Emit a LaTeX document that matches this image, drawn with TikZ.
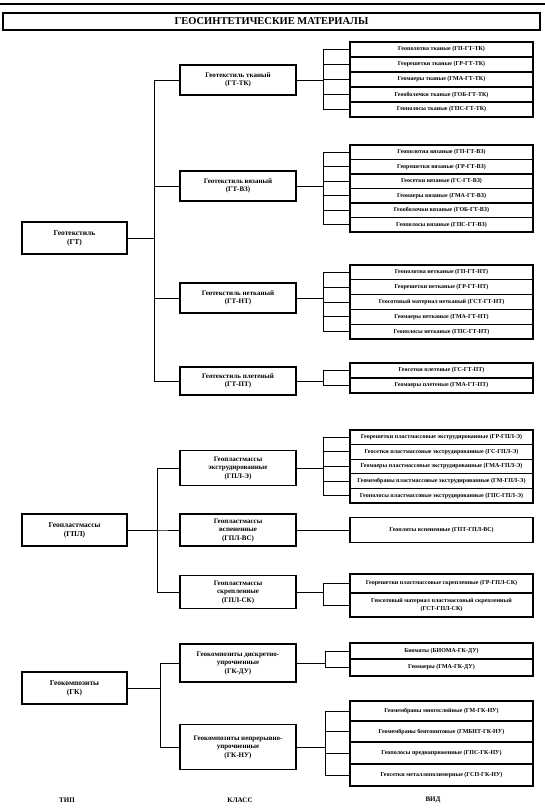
\documentclass[tikz,border=0pt]{standalone}
\usepackage{fontspec}
\setmainfont{Liberation Serif}
\begin{document}
\begin{tikzpicture}[x=1pt,y=-1pt,
  every node/.style={inner sep=1pt, align=center},
  box/.style={draw, line width=1.1pt},
  typebox/.style={box, minimum width=105pt, minimum height=32pt, font=\bfseries\fontsize{7.5}{9}\selectfont},
  classbox/.style={box, minimum width=116pt, font=\bfseries\fontsize{7}{8.5}\selectfont},
  kindbox/.style={box, minimum width=183pt, font=\bfseries\fontsize{6}{7.2}\selectfont},
  link/.style={line width=0.9pt},
  axislabel/.style={font=\bfseries\fontsize{7}{8}\selectfont}
]
\useasboundingbox (0,0) rectangle (545,810);
\coordinate (ruleL) at (0,4);
\coordinate (ruleR) at (545,4);
\draw[line width=1.2pt] (ruleL) -- (ruleR);

\node[box, minimum width=537pt, minimum height=17pt, font=\bfseries\fontsize{10.5}{12}\selectfont] (title) at (271.5,21.5) {ГЕОСИНТЕТИЧЕСКИЕ МАТЕРИАЛЫ};

% types
\node[typebox] (tgt) at (74.5,238) {Геотекстиль\\(ГТ)};
\node[typebox] (tgpl) at (74.5,530) {Геопластмассы\\(ГПЛ)};
\node[typebox] (tgk) at (74.5,688) {Геокомпозиты\\(ГК)};

% classes
\node[classbox, minimum height=30pt] (ctk) at (238,80) {Геотекстиль тканый\\(ГТ-ТК)};
\node[classbox, minimum height=30pt] (cvz) at (238,186) {Геотекстиль вязаный\\(ГТ-ВЗ)};
\node[classbox, minimum height=30pt] (cnt) at (238,298) {Геотекстиль нетканый\\(ГТ-НТ)};
\node[classbox, minimum height=28pt] (cpt) at (238,381) {Геотекстиль плетеный\\(ГТ-ПТ)};
\node[classbox, minimum height=35pt] (ce) at (238,468) {Геопластмассы\\экструдированные\\(ГПЛ-Э)};
\node[classbox, minimum height=32pt] (cvs) at (238,530) {Геопластмассы\\вспененные\\(ГПЛ-ВС)};
\node[classbox, minimum height=33pt] (csk) at (238,592) {Геопластмассы\\скрепленные\\(ГПЛ-СК)};
\node[classbox, minimum height=38pt] (cdu) at (238,663) {Геокомпозиты дискретно-\\упрочненные\\(ГК-ДУ)};
\node[classbox, minimum height=45pt] (cnu) at (238,747) {Геокомпозиты непрерывно-\\упрочненные\\(ГК-НУ)};

% kinds: ГТ-ТК
\node[kindbox, minimum height=15pt] (tk1) at (441.5,49.5) {Геополотна тканые (ГП-ГТ-ТК)};
\node[kindbox, minimum height=15pt] (tk2) at (441.5,64.5) {Георешетки тканые (ГР-ГТ-ТК)};
\node[kindbox, minimum height=15pt] (tk3) at (441.5,79.5) {Геомаеры тканые (ГМА-ГТ-ТК)};
\node[kindbox, minimum height=15pt] (tk4) at (441.5,94.5) {Геооболочки тканые (ГОБ-ГТ-ТК)};
\node[kindbox, minimum height=15pt] (tk5) at (441.5,109.5) {Геополосы тканые (ГПС-ГТ-ТК)};
% ГТ-ВЗ
\node[kindbox, minimum height=14.5pt] (vz1) at (441.5,152.25) {Геополотна вязаные (ГП-ГТ-ВЗ)};
\node[kindbox, minimum height=14.5pt] (vz2) at (441.5,166.75) {Георешетки вязаные (ГР-ГТ-ВЗ)};
\node[kindbox, minimum height=14.5pt] (vz3) at (441.5,181.25) {Геосетки вязаные (ГС-ГТ-ВЗ)};
\node[kindbox, minimum height=14.5pt] (vz4) at (441.5,195.75) {Геомаеры вязаные (ГМА-ГТ-ВЗ)};
\node[kindbox, minimum height=14.5pt] (vz5) at (441.5,210.25) {Геооболочки вязаные (ГОБ-ГТ-ВЗ)};
\node[kindbox, minimum height=14.5pt] (vz6) at (441.5,224.75) {Геополосы вязаные (ГПС-ГТ-ВЗ)};
% ГТ-НТ
\node[kindbox, minimum height=14.8pt] (nt1) at (441.5,272.4) {Геополотна нетканые (ГП-ГТ-НТ)};
\node[kindbox, minimum height=14.8pt] (nt2) at (441.5,287.2) {Георешетки нетканые (ГР-ГТ-НТ)};
\node[kindbox, minimum height=14.8pt] (nt3) at (441.5,302) {Геосотовый материал нетканый (ГСТ-ГТ-НТ)};
\node[kindbox, minimum height=14.8pt] (nt4) at (441.5,316.8) {Геомаеры нетканые (ГМА-ГТ-НТ)};
\node[kindbox, minimum height=14.8pt] (nt5) at (441.5,331.6) {Геополосы нетканые (ГПС-ГТ-НТ)};
% ГТ-ПТ
\node[kindbox, minimum height=15pt] (pt1) at (441.5,370.5) {Геосетки плетеные (ГС-ГТ-ПТ)};
\node[kindbox, minimum height=15pt] (pt2) at (441.5,385.5) {Геомаеры плетеные (ГМА-ГТ-ПТ)};
% ГПЛ-Э
\node[kindbox, minimum height=14.6pt] (e1) at (441.5,437.3) {Георешетки пластмассовые экструдированные (ГР-ГПЛ-Э)};
\node[kindbox, minimum height=14.6pt] (e2) at (441.5,451.9) {Геосетки пластмассовые экструдированные (ГС-ГПЛ-Э)};
\node[kindbox, minimum height=14.6pt] (e3) at (441.5,466.5) {Геомаеры пластмассовые экструдированные (ГМА-ГПЛ-Э)};
\node[kindbox, minimum height=14.6pt] (e4) at (441.5,481.1) {Геомембраны пластмассовые экструдированные (ГМ-ГПЛ-Э)};
\node[kindbox, minimum height=14.6pt] (e5) at (441.5,495.7) {Геополосы пластмассовые экструдированные (ГПС-ГПЛ-Э)};
% ГПЛ-ВС
\node[kindbox, minimum height=25pt] (vs1) at (441.5,530) {Геоплиты вспененные (ГПТ-ГПЛ-ВС)};
% ГПЛ-СК
\node[kindbox, minimum height=19pt] (sk1) at (441.5,583.5) {Георешетки пластмассовые скрепленные (ГР-ГПЛ-СК)};
\node[kindbox, minimum height=24pt] (sk2) at (441.5,605) {Геосотовый материал пластмассовый скрепленный\\(ГСТ-ГПЛ-СК)};
% ГК-ДУ
\node[kindbox, minimum height=16pt] (du1) at (441.5,651) {Биоматы (БИОМА-ГК-ДУ)};
\node[kindbox, minimum height=17pt] (du2) at (441.5,667.5) {Геомаеры (ГМА-ГК-ДУ)};
% ГК-НУ
\node[kindbox, minimum height=20pt] (nu1) at (441.5,711) {Геомембраны многослойные (ГМ-ГК-НУ)};
\node[kindbox, minimum height=21pt] (nu2) at (441.5,731.5) {Геомембраны бентонитовые (ГМБНТ-ГК-НУ)};
\node[kindbox, minimum height=22pt] (nu3) at (441.5,753) {Геополосы преднапряженные (ГПС-ГК-НУ)};
\node[kindbox, minimum height=22pt] (nu4) at (441.5,775) {Геосетки металлополимерные (ГСП-ГК-НУ)};

% type -> class
\foreach \c in {ctk,cvz,cnt,cpt} \draw[link] (tgt.east) -- ++(27,0) |- (\c.west);
\foreach \c in {ce,cvs,csk} \draw[link] (tgpl.east) -- ++(30,0) |- (\c.west);
\foreach \c in {cdu,cnu} \draw[link] (tgk.east) -- ++(33,0) |- (\c.west);

% class -> kind
\foreach \k in {tk1,tk2,tk3,tk4,tk5} \draw[link] (ctk.east) -- ++(27,0) |- (\k.west);
\foreach \k in {vz1,vz2,vz3,vz4,vz5,vz6} \draw[link] (cvz.east) -- ++(27,0) |- (\k.west);
\foreach \k in {nt1,nt2,nt3,nt4,nt5} \draw[link] (cnt.east) -- ++(27,0) |- (\k.west);
\foreach \k in {pt1,pt2} \draw[link] (cpt.east) -- ++(27,0) |- (\k.west);
\foreach \k in {e1,e2,e3,e4,e5} \draw[link] (ce.east) -- ++(27,0) |- (\k.west);
\draw[link] (cvs.east) -- (vs1.west);
\foreach \k in {sk1,sk2} \draw[link] (csk.east) -- ++(27,0) |- (\k.west);
\foreach \k in {du1,du2} \draw[link] (cdu.east) -- ++(29,0) |- (\k.west);
\foreach \k in {nu1,nu2,nu3,nu4} \draw[link] (cnu.east) -- ++(29,0) |- (\k.west);

% axis labels
\node[axislabel] (ltype) at (67,800) {ТИП};
\node[axislabel] (lclass) at (240,800) {КЛАСС};
\node[axislabel] (lkind) at (433,800) {ВИД};
\end{tikzpicture}
\end{document}
